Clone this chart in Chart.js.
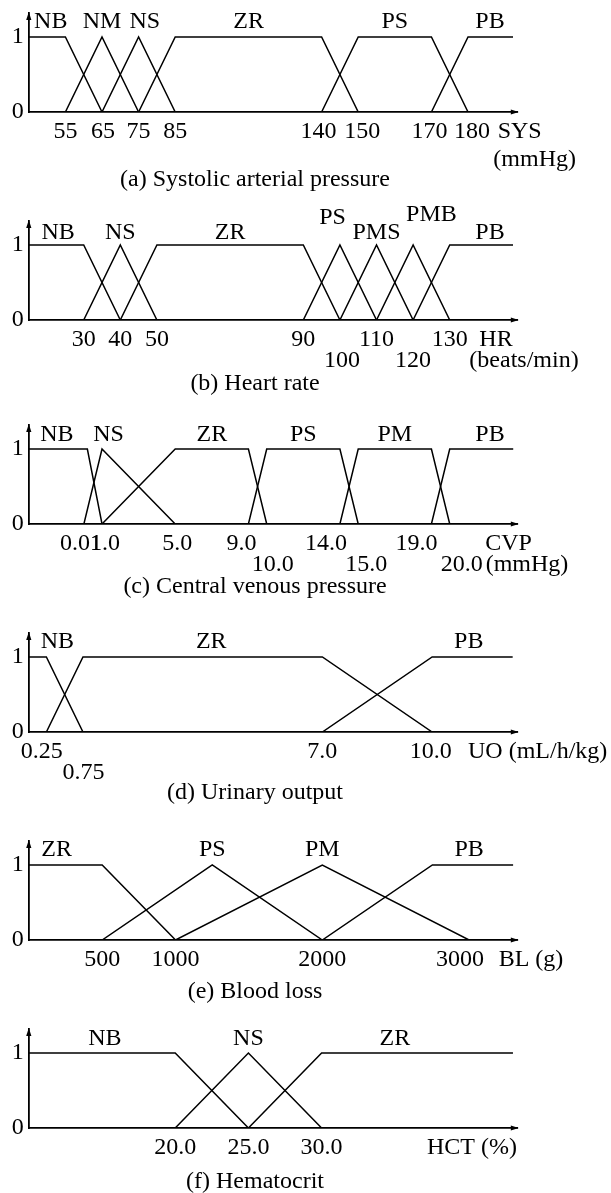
<!DOCTYPE html>
<html>
<head>
<meta charset="utf-8">
<script src="https://cdn.jsdelivr.net/npm/chart.js@4.4.1/dist/chart.umd.min.js"></script>
<style>
  body { margin: 0; background: #fff; width: 611px; height: 1193px; position: relative; overflow: hidden; }
  canvas { position: absolute; left: 0; }
</style>
</head>
<body>
<canvas id="panel-sys"></canvas>
<canvas id="panel-hr"></canvas>
<canvas id="panel-cvp"></canvas>
<canvas id="panel-uo"></canvas>
<canvas id="panel-bl"></canvas>
<canvas id="panel-hct"></canvas>
<script>
// ---- (a) Systolic arterial pressure ----
const sysTicks = [55, 65, 75, 85, 140, 150, 170, 180];
const sysTickLabels = ["55", "65", "75", "85", "140", "150", "170", "180"];
const sysNames = ["NB", "NM", "NS", "ZR", "PS", "PB"];
const sysNB = [[45, 1], [55, 1], [65, 0]];
const sysNM = [[55, 0], [65, 1], [75, 0]];
const sysNS = [[65, 0], [75, 1], [85, 0]];
const sysZR = [[75, 0], [85, 1], [140, 1], [150, 0]];
const sysPS = [[140, 0], [150, 1], [170, 1], [180, 0]];
const sysPB = [[170, 0], [180, 1], [192.3, 1]];

// ---- (b) Heart rate ----
const hrTicks = [30, 40, 50, 90, 100, 110, 120, 130];
const hrTickLabels = ["30", "40", "50", "90", "100", "110", "120", "130"];
const hrNames = ["NB", "NS", "ZR", "PS", "PMS", "PMB", "PB"];
const hrNB = [[15, 1], [30, 1], [40, 0]];
const hrNS = [[30, 0], [40, 1], [50, 0]];
const hrZR = [[40, 0], [50, 1], [90, 1], [100, 0]];
const hrPS = [[90, 0], [100, 1], [110, 0]];
const hrPMS = [[100, 0], [110, 1], [120, 0]];
const hrPMB = [[110, 0], [120, 1], [130, 0]];
const hrPB = [[120, 0], [130, 1], [147.3, 1]];

// ---- (c) Central venous pressure ----
const cvpTicks = [0.01, 1.0, 5.0, 9.0, 10.0, 14.0, 15.0, 19.0, 20.0];
const cvpTickLabels = ["0.01", "1.0", "5.0", "9.0", "10.0", "14.0", "15.0", "19.0", "20.0"];
const cvpNames = ["NB", "NS", "ZR", "PS", "PM", "PB"];
const cvpNB = [[-3, 1], [0.2, 1], [1.0, 0]];
const cvpNS = [[0.01, 0], [1.0, 1], [5.0, 0]];
const cvpZR = [[1.0, 0], [5.0, 1], [9.0, 1], [10.0, 0]];
const cvpPS = [[9.0, 0], [10.0, 1], [14.0, 1], [15.0, 0]];
const cvpPM = [[14.0, 0], [15.0, 1], [19.0, 1], [20.0, 0]];
const cvpPB = [[19.0, 0], [20.0, 1], [23.47, 1]];

// ---- (d) Urinary output ----
const uoTicks = [0.25, 0.75, 7.0, 10.0];
const uoTickLabels = ["0.25", "0.75", "7.0", "10.0"];
const uoNames = ["NB", "ZR", "PB"];
const uoNB = [[0, 1], [0.25, 1], [0.75, 0]];
const uoZR = [[0.25, 0], [0.75, 1], [7.0, 1], [10.0, 0]];
const uoPB = [[7.0, 0], [10.0, 1], [12.2, 1]];

// ---- (e) Blood loss ----
const blTicks = [500, 1000, 2000, 3000];
const blTickLabels = ["500", "1000", "2000", "3000"];
const blNames = ["ZR", "PS", "PM", "PB"];
const blZR = [[0, 1], [500, 1], [1000, 0]];
const blPS = [[500, 0], [1250, 1], [2000, 0]];
const blPM = [[1000, 0], [2000, 1], [3000, 0]];
const blPB = [[2000, 0], [2750, 1], [3300, 1]];

// ---- (f) Hematocrit ----
const hctTicks = [20.0, 25.0, 30.0];
const hctTickLabels = ["20.0", "25.0", "30.0"];
const hctNames = ["NB", "NS", "ZR"];
const hctNB = [[10, 1], [20, 1], [25, 0]];
const hctNS = [[20, 0], [25, 1], [30, 0]];
const hctZR = [[25, 0], [30, 1], [43.07, 1]];

// ---------------------------------------------------------------
const FONT = '24px "Liberation Serif", "Times New Roman", serif';
const UNIT = 75;        // pixels for membership 1
const YMAX = 1.32;
const ABOVE = 125;      // canvas px above the baseline
const CANVAS_H = 205;
const AXIS_LEFT = 28.8;
const AXIS_RIGHT = 517.8;
const ROW = [0, 19.5, 40.5];

// a scale with optional piecewise stretching of the value axis (schematic axes)
class WarpScale extends Chart.LinearScale {
  static id = "warp";
  static defaults = {};
  _warp(v) {
    const k = this.options.knots;
    if (!k) return v;
    let i = 0;
    while (i < k.length - 2 && v > k[i + 1][0]) i++;
    const [v0, p0] = k[i], [v1, p1] = k[i + 1];
    return p0 + (v - v0) * (p1 - p0) / (v1 - v0);
  }
  _unwarp(p) {
    const k = this.options.knots;
    if (!k) return p;
    let i = 0;
    while (i < k.length - 2 && p > k[i + 1][1]) i++;
    const [v0, p0] = k[i], [v1, p1] = k[i + 1];
    return v0 + (p - p0) * (v1 - v0) / (p1 - p0);
  }
  getPixelForValue(v) {
    const a = this._warp(this.min), b = this._warp(this.max);
    return this.getPixelForDecimal((this._warp(v) - a) / (b - a));
  }
  getValueForPixel(px) {
    const a = this._warp(this.min), b = this._warp(this.max);
    return this._unwarp(a + this.getDecimalForPixel(px) * (b - a));
  }
}
Chart.register(WarpScale);

// labels, arrows and caption for one panel
function panelText(cfg) {
  return {
    id: "panelText",
    afterDraw(chart) {
      const { ctx, chartArea: area } = chart;
      const xs = chart.scales.x, ys = chart.scales.y;
      const base = ys.getPixelForValue(0);
      ctx.save();
      ctx.fillStyle = "#000";
      // arrow heads
      ctx.beginPath();
      ctx.moveTo(area.right + 1, base);
      ctx.lineTo(area.right - 7, base - 2.6);
      ctx.lineTo(area.right - 7, base + 2.6);
      ctx.closePath();
      ctx.fill();
      ctx.beginPath();
      ctx.moveTo(area.left, area.top - 1);
      ctx.lineTo(area.left - 2.6, area.top + 7);
      ctx.lineTo(area.left + 2.6, area.top + 7);
      ctx.closePath();
      ctx.fill();

      ctx.font = FONT;
      ctx.textAlign = "center";
      ctx.textBaseline = "middle";
      // term names
      cfg.names.forEach((n, i) => {
        ctx.fillText(n, xs.getPixelForValue(cfg.nameX[i]), ys.getPixelForValue(cfg.nameY[i]));
      });
      // tick labels
      cfg.ticks.forEach((v, i) => {
        const dx = cfg.tickShift ? cfg.tickShift[i] : 0;
        const row = cfg.tickRow ? cfg.tickRow[i] : 1;
        ctx.fillText(cfg.tickLabels[i], xs.getPixelForValue(v) + dx, base + ROW[row]);
      });
      // axis name
      cfg.axisName.forEach(a => {
        ctx.textAlign = a.align || "center";
        ctx.fillText(a.t, a.x, base + a.dy);
      });
      // caption
      ctx.textAlign = "center";
      ctx.fillText(cfg.caption, 255, base + cfg.captionDy);
      ctx.restore();
    }
  };
}

function makePanel(id, cfg) {
  const canvas = document.getElementById(id);
  canvas.width = 611;
  canvas.height = CANVAS_H;
  canvas.style.top = (cfg.base - ABOVE) + "px";
  new Chart(canvas, {
    type: "line",
    data: {
      datasets: cfg.series.map((d, i) => ({
        label: cfg.names[i],
        data: d,
        borderColor: "#000",
        borderWidth: 1.5,
        pointRadius: 0,
        tension: 0,
        fill: false
      }))
    },
    options: {
      responsive: false,
      animation: false,
      devicePixelRatio: 1,
      layout: { padding: { left: 0, right: 611 - AXIS_RIGHT, top: ABOVE - YMAX * UNIT, bottom: 0 } },
      plugins: { legend: { display: false }, tooltip: { enabled: false } },
      scales: {
        x: {
          type: "warp",
          knots: cfg.knots,
          min: cfg.min,
          max: cfg.max,
          grid: { display: false, drawTicks: false },
          border: { color: "#000", width: 1.8 },
          ticks: { display: false },
          afterFit: s => { s.height = CANVAS_H - ABOVE; }
        },
        y: {
          type: "linear",
          min: 0,
          max: YMAX,
          grid: { display: false, drawTicks: false },
          border: { color: "#000", width: 1.8 },
          ticks: {
            color: "#000",
            padding: 5,
            font: { family: '"Liberation Serif", "Times New Roman", serif', size: 24 },
            callback: v => String(v)
          },
          afterBuildTicks: s => { s.ticks = [{ value: 0 }, { value: 1 }]; },
          afterFit: s => { s.width = AXIS_LEFT; }
        }
      }
    },
    plugins: [panelText(cfg)]
  });
}

makePanel("panel-sys", {
  base: 112.3, min: 45, max: 193.6,
  knots: [[45, 0], [55, 1], [65, 2], [75, 3], [85, 4], [140, 8], [150, 9], [170, 11], [180, 12], [200, 14]],
  series: [sysNB, sysNM, sysNS, sysZR, sysPS, sysPB], names: sysNames,
  nameX: [51, 65, 76.7, 112.6, 160, 186], nameY: [1.21, 1.21, 1.21, 1.21, 1.21, 1.21],
  ticks: sysTicks, tickLabels: sysTickLabels, tickShift: [0, 1, 0, 0, -3, 4, -2, 4],
  axisName: [{ t: "SYS", x: 519.7, dy: 19.5 }, { t: "(mmHg)", x: 534.7, dy: 47.7 }],
  caption: "(a) Systolic arterial pressure", captionDy: 67.7
});

makePanel("panel-hr", {
  base: 320, min: 15, max: 148.6,
  series: [hrNB, hrNS, hrZR, hrPS, hrPMS, hrPMB, hrPB], names: hrNames,
  nameX: [23, 40, 70, 98, 110, 125, 141], nameY: [1.17, 1.17, 1.17, 1.37, 1.16, 1.40, 1.17],
  ticks: hrTicks, tickLabels: hrTickLabels, tickRow: [1, 1, 1, 1, 2, 1, 2, 1],
  tickShift: [0, 0, 0, 0, 2, 0, 0, 0],
  axisName: [{ t: "HR", x: 496, dy: 19.5 }, { t: "(beats/min)", x: 524, dy: 40.5 }],
  caption: "(b) Heart rate", captionDy: 64
});

makePanel("panel-cvp", {
  base: 524.3, min: -3, max: 23.72,
  series: [cvpNB, cvpNS, cvpZR, cvpPS, cvpPM, cvpPB], names: cvpNames,
  nameX: [-1.47, 1.36, 7, 12, 17, 22.2], nameY: [1.19, 1.19, 1.19, 1.19, 1.19, 1.19],
  ticks: cvpTicks, tickLabels: cvpTickLabels, tickRow: [1, 1, 1, 1, 2, 1, 2, 1, 2],
  tickShift: [-3, 3, 2, -7, 6, -14, 8, -15, 12],
  axisName: [{ t: "CVP", x: 508.6, dy: 19.5 }, { t: "(mmHg)", x: 527, dy: 40.5 }],
  caption: "(c) Central venous pressure", captionDy: 63
});

makePanel("panel-uo", {
  base: 732, min: 0, max: 12.34,
  knots: [[0, 0], [0.25, 0.48], [0.75, 1.48], [7, 8.02], [10, 11.02], [13, 14.02]],
  series: [uoNB, uoZR, uoPB], names: uoNames,
  nameX: [0.4, 4.1, 11.0], nameY: [1.2, 1.2, 1.2],
  ticks: uoTicks, tickLabels: uoTickLabels, tickRow: [1, 2, 1, 1], tickShift: [-4.6, 0.6, 0, -1.3],
  axisName: [{ t: "UO (mL/h/kg)", x: 468, dy: 19.5, align: "left" }],
  caption: "(d) Urinary output", captionDy: 61
});

makePanel("panel-bl", {
  base: 940, min: 0, max: 3332,
  series: [blZR, blPS, blPM, blPB], names: blNames,
  nameX: [190, 1250, 2000, 3000], nameY: [1.2, 1.2, 1.2, 1.2],
  ticks: blTicks, tickLabels: blTickLabels, tickShift: [0, 0, 0, -9],
  axisName: [{ t: "BL (g)", x: 531, dy: 19.5 }],
  caption: "(e) Blood loss", captionDy: 52
});

makePanel("panel-hct", {
  base: 1127.7, min: 10, max: 43.4,
  series: [hctNB, hctNS, hctZR], names: hctNames,
  nameX: [15.2, 25, 35], nameY: [1.19, 1.19, 1.19],
  ticks: hctTicks, tickLabels: hctTickLabels,
  axisName: [{ t: "HCT (%)", x: 472, dy: 19.5 }],
  caption: "(f) Hematocrit", captionDy: 54
});
</script>
</body>
</html>
